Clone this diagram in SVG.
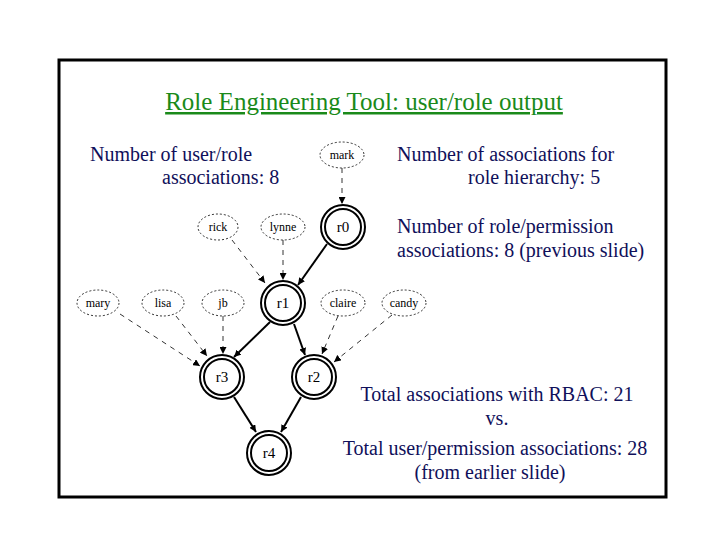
<svg xmlns="http://www.w3.org/2000/svg" width="720" height="540" viewBox="0 0 720 540">
<style>
.t{font-family:"Liberation Serif",serif;font-size:20px;fill:#10105a}
.u ellipse{fill:#fff;stroke:#000;stroke-width:0.8;stroke-dasharray:2 2}
.u text,.r text{font-family:"Liberation Serif",serif;font-size:12px;fill:#000;text-anchor:middle}
.r circle{fill:#fff;stroke:#000;stroke-width:2}
.r text{font-size:15px}
.d{stroke:#000;stroke-width:0.8;stroke-dasharray:5 5;fill:none;marker-end:url(#a)}
.s{stroke:#000;stroke-width:2;fill:none;marker-end:url(#a)}
</style>
<defs><marker id="a" viewBox="0 0 10 10" refX="10" refY="5" markerWidth="7" markerHeight="7" orient="auto" markerUnits="userSpaceOnUse"><path d="M0,0L10,5L0,10z" fill="#000"/></marker></defs>
<rect width="720" height="540" fill="#fff"/>
<rect x="59" y="60" width="607" height="437" fill="none" stroke="#000" stroke-width="3"/>
<text x="364" y="110" text-anchor="middle" style="font-family:'Liberation Serif',serif;font-size:25px;fill:#1a8a1a;text-decoration:underline">Role Engineering Tool: user/role output</text>
<text class="t" x="90" y="161">Number of user/role</text>
<text class="t" x="162" y="184">associations: 8</text>
<text class="t" x="397" y="161">Number of associations for</text>
<text class="t" x="468" y="184">role hierarchy: 5</text>
<text class="t" x="397" y="233">Number of role/permission</text>
<text class="t" x="397" y="257">associations: 8 (previous slide)</text>
<text class="t" x="497" y="401" text-anchor="middle">Total associations with RBAC: 21</text>
<text class="t" x="497" y="425" text-anchor="middle">vs.</text>
<text class="t" x="495" y="455" text-anchor="middle">Total user/permission associations: 28</text>
<text class="t" x="490" y="479" text-anchor="middle">(from earlier slide)</text>
<g id="connectors">
<path class="d" d="M342,168V204"/>
<path class="d" d="M232,240L265,283"/>
<path class="d" d="M283,240V280"/>
<path class="s" d="M327,244L298,285"/>
<path class="d" d="M120,314L200,366"/>
<path class="d" d="M176,316L207,356"/>
<path class="d" d="M223,316V354"/>
<path class="s" d="M270,322L234,357"/>
<path class="s" d="M294,324L305,355"/>
<path class="d" d="M338,316L322,354"/>
<path class="d" d="M392,315L334,362"/>
<path class="s" d="M234,397L256,432"/>
<path class="s" d="M301,397L281,432"/>
</g>
<g id="mark" class="u"><ellipse cx="342" cy="155" rx="22" ry="13"/><text x="342" y="159">mark</text></g>
<g id="rick" class="u"><ellipse cx="218" cy="227" rx="20" ry="13"/><text x="218" y="231">rick</text></g>
<g id="lynne" class="u"><ellipse cx="283" cy="227" rx="22" ry="13"/><text x="283" y="231">lynne</text></g>
<g id="mary" class="u"><ellipse cx="98" cy="303" rx="21" ry="13"/><text x="98" y="307">mary</text></g>
<g id="lisa" class="u"><ellipse cx="163" cy="303" rx="21" ry="13"/><text x="163" y="307">lisa</text></g>
<g id="jb" class="u"><ellipse cx="223" cy="303" rx="21" ry="13"/><text x="223" y="307">jb</text></g>
<g id="claire" class="u"><ellipse cx="343" cy="303" rx="22" ry="13"/><text x="343" y="307">claire</text></g>
<g id="candy" class="u"><ellipse cx="404" cy="303" rx="22" ry="13"/><text x="404" y="307">candy</text></g>
<g id="r0" class="r"><circle cx="343" cy="227" r="22"/><circle cx="343" cy="227" r="18" stroke-width="1.5"/><text x="343" y="232">r0</text></g>
<g id="r1" class="r"><circle cx="283" cy="303" r="22"/><circle cx="283" cy="303" r="18" stroke-width="1.5"/><text x="283" y="308">r1</text></g>
<g id="r3" class="r"><circle cx="222" cy="377" r="22"/><circle cx="222" cy="377" r="18" stroke-width="1.5"/><text x="222" y="382">r3</text></g>
<g id="r2" class="r"><circle cx="314" cy="377" r="22"/><circle cx="314" cy="377" r="18" stroke-width="1.5"/><text x="314" y="382">r2</text></g>
<g id="r4" class="r"><circle cx="269" cy="453" r="22"/><circle cx="269" cy="453" r="18" stroke-width="1.5"/><text x="269" y="458">r4</text></g>
</svg>
